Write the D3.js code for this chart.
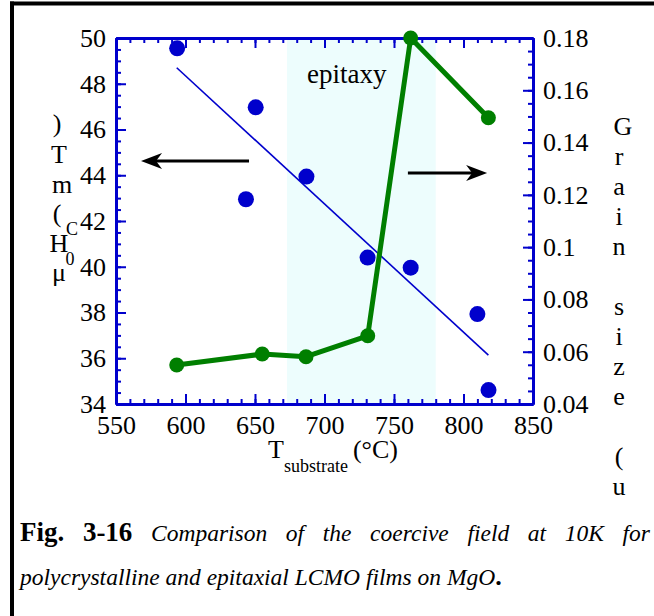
<!DOCTYPE html>
<html>
<head>
<meta charset="utf-8">
<script src="https://cdn.jsdelivr.net/npm/d3@7"></script>
<style>
  body { margin: 0; background: #fff; }
  svg { display: block; }
  text { font-family: "Liberation Serif", "Times New Roman", serif; fill: #000; }
</style>
</head>
<body>
<svg id="chart" width="654" height="616"></svg>
<script>
// coercive field (left axis) vs substrate temperature
const hcTemps = [594, 650.5, 643.5, 687, 731, 762, 810, 818];
const hcValues = [49.55, 46.97, 42.95, 43.94, 40.4, 39.96, 37.93, 34.61];
// linear fit drawn through the coercive field points
const fitTemps = [593.7, 817.9];
const fitValues = [48.7, 36.14];
// grain size (right axis)
const grainTemps = [593.7, 655.2, 686.7, 731.1, 762, 817.9];
const grainValues = [0.0549, 0.0591, 0.0581, 0.0661, 0.18, 0.1495];
// epitaxy window
const epitaxyRange = [673, 780];
// ticks
const xTicks = [550, 600, 650, 700, 750, 800, 850];
const hcTicks = [34, 36, 38, 40, 42, 44, 46, 48, 50];
const grainTicks = [0.04, 0.06, 0.08, 0.1, 0.12, 0.14, 0.16, 0.18];

const blue = "#0000cc", green = "#007f00";
const margin = {left: 116, right: 121, top: 38, bottom: 212};
const width = 654, height = 616;

const svg = d3.select("#chart");

// frame lines
svg.append("line").attr("x1", 10).attr("x2", width).attr("y1", 3.5).attr("y2", 3.5)
  .attr("stroke", "#000").attr("stroke-width", 4);
svg.append("line").attr("x1", 12).attr("x2", 12).attr("y1", 1.5).attr("y2", height)
  .attr("stroke", "#000").attr("stroke-width", 4);

const x = d3.scaleLinear().domain([550, 850]).range([margin.left, width - margin.right]);
const yL = d3.scaleLinear().domain([34, 50]).range([height - margin.bottom, margin.top]);
const yR = d3.scaleLinear().domain([0.04, 0.18]).range([height - margin.bottom, margin.top]);
const x0 = x.range()[0], x1 = x.range()[1], y0 = yL.range()[0], y1 = yL.range()[1];

// epitaxy shading
svg.append("rect")
  .attr("x", x(epitaxyRange[0])).attr("width", x(epitaxyRange[1]) - x(epitaxyRange[0]))
  .attr("y", y1).attr("height", y0 - y1).attr("fill", "#edfdfd");
svg.append("text").attr("x", 307).attr("y", 83).attr("font-size", 27).text("epitaxy");

// axes
function styleAxis(g) {
  g.selectAll(".domain").attr("stroke", blue).attr("stroke-width", 3);
  g.selectAll(".tick line").attr("stroke", blue).attr("stroke-width", 2);
  g.selectAll(".tick text").attr("fill", "#000").attr("font-size", 26)
    .attr("font-family", '"Liberation Serif", serif');
}
const fmt = d => String(+d.toFixed(2));

// minor ticks first
svg.append("g").attr("transform", `translate(0,${y0})`)
  .call(d3.axisBottom(x).tickValues(d3.range(550, 851, 10)).tickSize(-5).tickSizeOuter(0).tickFormat(""))
  .call(styleAxis);
svg.append("g").attr("transform", `translate(0,${y1})`)
  .call(d3.axisTop(x).tickValues(d3.range(550, 851, 10)).tickSize(-5).tickSizeOuter(0).tickFormat(""))
  .call(styleAxis);
svg.append("g").attr("transform", `translate(${x0},0)`)
  .call(d3.axisLeft(yL).tickValues(d3.range(34, 50.1, 0.5)).tickSize(-5).tickSizeOuter(0).tickFormat(""))
  .call(styleAxis);
svg.append("g").attr("transform", `translate(${x1},0)`)
  .call(d3.axisRight(yR).tickValues(d3.range(0.04, 0.1801, 0.005)).tickSize(-5).tickSizeOuter(0).tickFormat(""))
  .call(styleAxis);

// major ticks with labels
svg.append("g").attr("transform", `translate(0,${y0})`)
  .call(d3.axisBottom(x).tickValues(xTicks).tickSize(-10).tickSizeOuter(0).tickPadding(12))
  .call(styleAxis);
svg.append("g").attr("transform", `translate(0,${y1})`)
  .call(d3.axisTop(x).tickValues(xTicks).tickSize(-10).tickSizeOuter(0).tickFormat(""))
  .call(styleAxis);
svg.append("g").attr("transform", `translate(${x0},0)`)
  .call(d3.axisLeft(yL).tickValues(hcTicks).tickSize(-10).tickSizeOuter(0).tickPadding(10))
  .call(styleAxis);
svg.append("g").attr("transform", `translate(${x1},0)`)
  .call(d3.axisRight(yR).tickValues(grainTicks).tickSize(-10).tickSizeOuter(0).tickPadding(10).tickFormat(fmt))
  .call(styleAxis);

// fit line
svg.append("path")
  .datum(fitTemps.map((t, i) => [t, fitValues[i]]))
  .attr("d", d3.line().x(d => x(d[0])).y(d => yL(d[1])))
  .attr("fill", "none").attr("stroke", blue).attr("stroke-width", 1.6);

// coercive field points
svg.append("g").selectAll("circle")
  .data(hcTemps.map((t, i) => [t, hcValues[i]]))
  .join("circle")
  .attr("cx", d => x(d[0])).attr("cy", d => yL(d[1])).attr("r", 8).attr("fill", blue);

// grain size line and markers
const grainData = grainTemps.map((t, i) => [t, grainValues[i]]);
svg.append("path").datum(grainData)
  .attr("d", d3.line().x(d => x(d[0])).y(d => yR(d[1])))
  .attr("fill", "none").attr("stroke", green).attr("stroke-width", 5).attr("stroke-linejoin", "round");
svg.append("g").selectAll("circle").data(grainData).join("circle")
  .attr("cx", d => x(d[0])).attr("cy", d => yR(d[1])).attr("r", 7.5).attr("fill", green);

// arrows pointing to each axis
const arrows = [
  {from: [645.7, 44.62], to: [568, 44.62], scale: yL},
  {from: [760, 0.1284], to: [817, 0.1284], scale: yR}
];
arrows.forEach(a => {
  const xa = x(a.from[0]), xb = x(a.to[0]), yy = a.scale(a.from[1]);
  const dir = Math.sign(xb - xa);
  svg.append("line").attr("x1", xa).attr("x2", xb - dir * 12).attr("y1", yy).attr("y2", yy)
    .attr("stroke", "#000").attr("stroke-width", 3);
  svg.append("path")
    .attr("d", `M${xb},${yy} L${xb - dir * 21},${yy - 8} L${xb - dir * 15},${yy} L${xb - dir * 21},${yy + 8} Z`)
    .attr("fill", "#000");
});

// left axis title (stacked characters)
const leftTitle = [
  {c: ")", x: 57, y: 132, s: 26}, {c: "T", x: 59, y: 163, s: 26}, {c: "m", x: 62, y: 193, s: 26},
  {c: "(", x: 57, y: 222, s: 26}, {c: "C", x: 72, y: 235, s: 18}, {c: "H", x: 59, y: 252, s: 26},
  {c: "0", x: 70, y: 265, s: 18}, {c: "μ", x: 59, y: 281, s: 26}
];
svg.append("g").selectAll("text").data(leftTitle).join("text")
  .attr("x", d => d.x).attr("y", d => d.y).attr("font-size", d => d.s)
  .attr("text-anchor", "middle").text(d => d.c);

// right axis title (stacked characters)
const rightTitle = "Grain size (u".split("");
svg.append("g").selectAll("text").data(rightTitle).join("text")
  .attr("x", (d, i) => i === 0 ? 623 : 619).attr("y", (d, i) => 135 + i * 30)
  .attr("font-size", 26).attr("text-anchor", "middle").text(d => d);

// x axis title
const xt = svg.append("text").attr("x", 268).attr("y", 458).attr("font-size", 26);
xt.append("tspan").text("T");
xt.append("tspan").attr("font-size", 18).attr("dy", 14).text("substrate");
xt.append("tspan").attr("dy", -14).attr("dx", 5).text("(°C)");

// caption, line 1 justified
const line1 = [
  {w: "Fig.", b: true}, {w: "3-16", b: true}, {w: "Comparison"}, {w: "of"}, {w: "the"},
  {w: "coercive"}, {w: "field"}, {w: "at"}, {w: "10K"}, {w: "for"}
];
const cap1 = svg.append("g");
const nodes = line1.map(d => cap1.append("text").attr("y", 541)
  .attr("font-size", d.b ? 27 : 23.5)
  .attr("font-weight", d.b ? "bold" : "normal")
  .attr("font-style", d.b ? "normal" : "italic").text(d.w));
const widths = nodes.map(n => n.node().getComputedTextLength());
const gap = (650 - 20 - d3.sum(widths)) / (nodes.length - 1);
let cx = 20;
nodes.forEach((n, i) => { n.attr("x", cx); cx += widths[i] + gap; });

const cap2 = svg.append("text").attr("x", 20).attr("y", 585).attr("font-size", 23.5);
cap2.append("tspan").attr("font-style", "italic").text("polycrystalline and epitaxial LCMO films on MgO");
cap2.append("tspan").attr("font-weight", "bold").attr("font-size", 26).text(".");
</script>
</body>
</html>
